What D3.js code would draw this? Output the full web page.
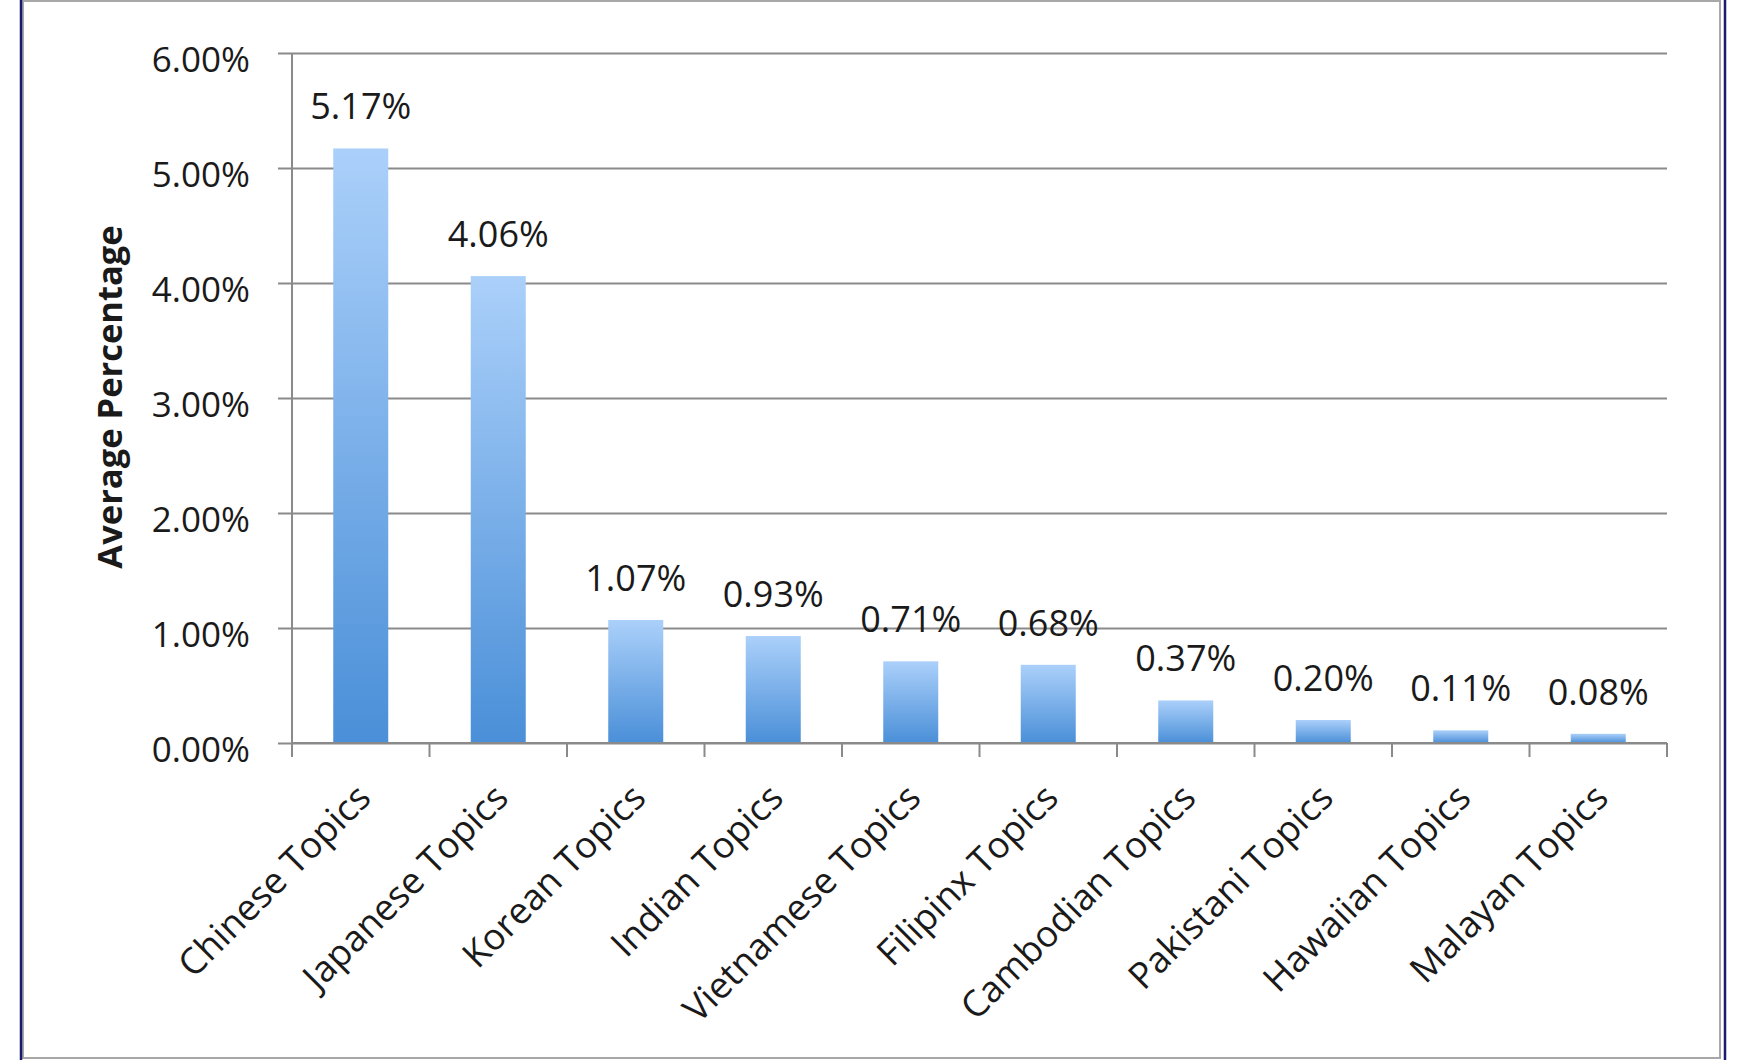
<!DOCTYPE html>
<html>
<head>
<meta charset="utf-8">
<script src="https://cdn.jsdelivr.net/npm/d3@7"></script>
<style>
  html, body { margin: 0; padding: 0; background: #ffffff; }
  svg { display: block; }
  text { font-family: "Open Sans", "DejaVu Sans", sans-serif; fill: #1a1a1a; }
</style>
</head>
<body>
<svg id="chart" width="1739" height="1060"></svg>
<script>
const categories = ["Chinese Topics", "Japanese Topics", "Korean Topics", "Indian Topics",
  "Vietnamese Topics", "Filipinx Topics", "Cambodian Topics", "Pakistani Topics",
  "Hawaiian Topics", "Malayan Topics"];
const values = [5.17, 4.06, 1.07, 0.93, 0.71, 0.68, 0.37, 0.20, 0.11, 0.08];
const valueLabels = ["5.17%", "4.06%", "1.07%", "0.93%", "0.71%", "0.68%", "0.37%", "0.20%", "0.11%", "0.08%"];
const yTicks = [0, 1, 2, 3, 4, 5, 6];
const yTickLabels = ["0.00%", "1.00%", "2.00%", "3.00%", "4.00%", "5.00%", "6.00%"];
const yTitle = "Average Percentage";

const W = 1739, H = 1060;
const plot = { left: 292, right: 1667, top: 53, bottom: 743 };
const svg = d3.select("#chart");

// frame
svg.append("rect").attr("x", 23).attr("y", 1).attr("width", 1697).attr("height", 1057)
  .attr("fill", "#ffffff").attr("stroke", "#a8a8a8").attr("stroke-width", 2);
svg.append("line").attr("x1", 21).attr("x2", 21).attr("y1", 0).attr("y2", H)
  .attr("stroke", "#1a1a6e").attr("stroke-width", 2.5);
svg.append("line").attr("x1", 1725).attr("x2", 1725).attr("y1", 0).attr("y2", H)
  .attr("stroke", "#1a1a6e").attr("stroke-width", 2.5);

const x = d3.scaleBand().domain(categories).range([plot.left, plot.right]).paddingInner(0.6).paddingOuter(0.3);
const y = d3.scaleLinear().domain([0, 6]).range([plot.bottom, plot.top]);

const defs = svg.append("defs");
const grad = defs.append("linearGradient").attr("id", "barGrad")
  .attr("x1", 0).attr("y1", 0).attr("x2", 0).attr("y2", 1);
grad.append("stop").attr("offset", "0%").attr("stop-color", "#abd0fa");
grad.append("stop").attr("offset", "100%").attr("stop-color", "#4a8fd8");

// gridlines with ticks extending left
const yAxis = d3.axisLeft(y).tickValues(yTicks).tickSize(-(plot.right - plot.left + 14))
  .tickFormat("");
const gGrid = svg.append("g").attr("transform", `translate(${plot.left - 14},0)`).call(yAxis);
gGrid.select(".domain").remove();
gGrid.selectAll(".tick line").attr("stroke", "#8a8a8a").attr("stroke-width", 2)
  .attr("x1", 0).attr("x2", plot.right - plot.left + 14);

// y tick labels
svg.append("g").selectAll("text").data(yTicks).join("text")
  .attr("x", 250).attr("y", d => y(d) + 19)
  .attr("text-anchor", "end").attr("font-size", 35)
  .text((d, i) => yTickLabels[i]);

// y axis line
svg.append("line").attr("x1", plot.left).attr("x2", plot.left)
  .attr("y1", plot.top).attr("y2", plot.bottom)
  .attr("stroke", "#8a8a8a").attr("stroke-width", 2);

// x axis ticks at band boundaries
const edges = d3.range(categories.length + 1).map(i => plot.left + i * x.step());
svg.append("g").selectAll("line").data(edges).join("line")
  .attr("x1", d => d).attr("x2", d => d).attr("y1", plot.bottom).attr("y2", plot.bottom + 14)
  .attr("stroke", "#8a8a8a").attr("stroke-width", 2);

// bars
svg.append("g").selectAll("rect").data(values).join("rect")
  .attr("x", (d, i) => x(categories[i]))
  .attr("y", d => y(d))
  .attr("width", x.bandwidth())
  .attr("height", d => plot.bottom - y(d))
  .attr("fill", "url(#barGrad)");

// x axis baseline
svg.append("line").attr("x1", plot.left).attr("x2", plot.right)
  .attr("y1", plot.bottom).attr("y2", plot.bottom)
  .attr("stroke", "#8a8a8a").attr("stroke-width", 2);

// value labels
svg.append("g").selectAll("text").data(values).join("text")
  .attr("x", (d, i) => x(categories[i]) + x.bandwidth() / 2)
  .attr("y", d => y(d) - 29)
  .attr("text-anchor", "middle").attr("font-size", 36)
  .text((d, i) => valueLabels[i]);

// x labels
svg.append("g").selectAll("text").data(categories).join("text")
  .attr("transform", d => `translate(${x(d) + x.bandwidth() / 2 + 12},${plot.bottom + 57}) rotate(-45)`)
  .attr("text-anchor", "end").attr("font-size", 36.5)
  .text(d => d);

// y title
svg.append("text")
  .attr("transform", `translate(122,397) rotate(-90)`)
  .attr("text-anchor", "middle").attr("font-size", 34.5).attr("font-weight", "bold")
  .text(yTitle);
</script>
</body>
</html>
